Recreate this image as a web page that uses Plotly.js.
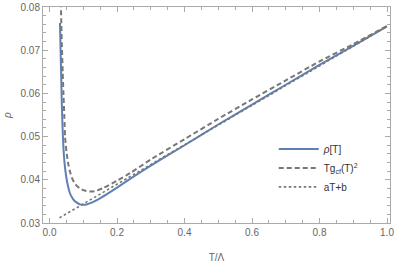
<!DOCTYPE html>
<html>
<head>
<meta charset="utf-8">
<script src="https://cdn.plot.ly/plotly-3.0.1.min.js"></script>
<style>html,body{margin:0;padding:0;background:#fff;}#chart{width:399px;height:263px;}</style>
</head>
<body>
<div id="chart"></div>
<script>
// rho[T]
var T_rho = [0.031,0.034,0.036,0.038,0.040,0.042,0.045,0.049,0.054,0.060,0.066,0.073,0.081,0.090,0.100,0.110,0.125,0.14,0.17,0.2,0.25,0.3,0.4,0.5,0.6,0.7,0.8,0.9,1.0];
var rho   = [0.0763,0.066,0.059,0.0535,0.0495,0.0465,0.0435,0.0410,0.0388,0.0370,0.0360,0.0352,0.0347,0.0343,0.0342,0.0343,0.0347,0.0353,0.0367,0.0382,0.0408,0.0433,0.0480,0.0528,0.0574,0.0620,0.0666,0.0710,0.0755];
// T g_cf(T)^2
var T_g = [0.033,0.035,0.037,0.039,0.041,0.044,0.046,0.051,0.056,0.061,0.066,0.073,0.081,0.090,0.100,0.110,0.120,0.135,0.159,0.2,0.24,0.3,0.4,0.5,0.6,0.7,0.8,0.9,1.0];
var Tg2 = [0.0830,0.0760,0.0700,0.0650,0.0605,0.0545,0.0500,0.0460,0.0435,0.0418,0.0405,0.0394,0.0386,0.0380,0.0376,0.0374,0.0373,0.0374,0.0381,0.0398,0.0416,0.0447,0.0494,0.0541,0.0586,0.0630,0.0674,0.0714,0.0756];
// aT+b
var T_lin = [0.0296, 1.0];
var lin   = [0.0312, 0.0755];

var names = ['<i>ρ</i>[T]', 'Tg<sub>cf</sub>(T)<sup>2</sup>', 'aT+b'];
var xTicks = [0.0,0.2,0.4,0.6,0.8,1.0];
var xTickText = ['0.0','0.2','0.4','0.6','0.8','1.0'];
var yTicks = [0.03,0.04,0.05,0.06,0.07,0.08];
var yTickText = ['0.03','0.04','0.05','0.06','0.07','0.08'];

var frame = '#aaaaaa';
var traces = [
  {x:T_rho, y:rho, name:names[0], mode:'lines', line:{color:'#5E81B5', width:2, shape:'spline', smoothing:0.6}},
  {x:T_g, y:Tg2, name:names[1], mode:'lines', line:{color:'#777777', width:2, dash:'5px,3px', shape:'spline', smoothing:0.6}},
  {x:T_lin, y:lin, name:names[2], mode:'lines', line:{color:'#777777', width:1.6, dash:'2.5px,2.5px'}}
];
var axisCommon = {
  showgrid:false, zeroline:false, showline:true, linecolor:frame, linewidth:1,
  mirror:'ticks', ticks:'inside', ticklen:5, tickcolor:frame, tickwidth:1,
  tickfont:{family:'Liberation Sans, Arial, sans-serif', size:10, color:'#666666'},
  tickmode:'array'
};
var layout = {
  width:399, height:263,
  margin:{l:43, r:9, t:7, b:40},
  paper_bgcolor:'#ffffff', plot_bgcolor:'#ffffff',
  showlegend:true,
  legend:{x:0.665, y:0.255, xanchor:'left', yanchor:'middle', bgcolor:'rgba(0,0,0,0)',
          font:{family:'Liberation Sans, Arial, sans-serif', size:10, color:'#333333'}, itemwidth:40},
  xaxis:Object.assign({}, axisCommon, {
    range:[-0.0193, 1.0089], tickvals:xTicks, ticktext:xTickText,
    minor:{dtick:0.05, tick0:0, ticks:'inside', ticklen:3, tickcolor:frame},
    title:{text:'T/Λ', font:{family:'Liberation Sans, Arial, sans-serif', size:10, color:'#666666'}, standoff:18}
  }),
  yaxis:Object.assign({}, axisCommon, {
    range:[0.03, 0.08], tickvals:yTicks, ticktext:yTickText,
    minor:{dtick:0.002, tick0:0.03, ticks:'inside', ticklen:3, tickcolor:frame},
    title:{text:'<i>ρ</i>', font:{family:'Liberation Sans, Arial, sans-serif', size:10, color:'#666666'}, standoff:7}
  })
};
Plotly.newPlot('chart', traces, layout, {staticPlot:true});
</script>
</body>
</html>
